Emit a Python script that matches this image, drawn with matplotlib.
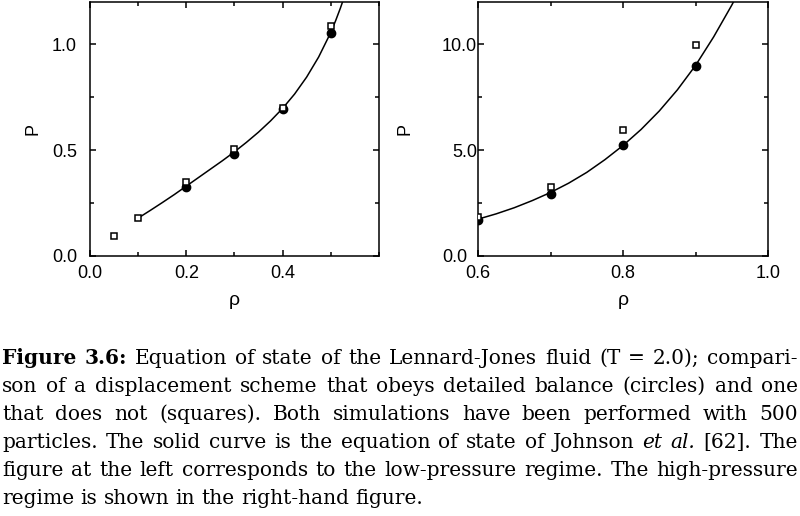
import matplotlib
matplotlib.use("Agg")
import matplotlib.pyplot as plt
from matplotlib.ticker import MultipleLocator
import matplotlib.transforms as mtransforms

# low-pressure regime (left panel)
rho_low_sq = [0.05, 0.1, 0.2, 0.3, 0.4, 0.5]
P_low_sq = [0.094, 0.18, 0.35, 0.505, 0.70, 1.085]
rho_low_circ = [0.2, 0.3, 0.4, 0.5]
P_low_circ = [0.327, 0.484, 0.693, 1.055]
rho_low_curve = [0.1, 0.125, 0.15, 0.175, 0.2, 0.225, 0.25, 0.275, 0.3, 0.325, 0.35,
                 0.375, 0.4, 0.425, 0.45, 0.475, 0.5, 0.51, 0.52, 0.53]
P_low_curve = [0.179, 0.215, 0.252, 0.29, 0.33, 0.37, 0.41, 0.45, 0.492, 0.537, 0.585,
               0.638, 0.697, 0.765, 0.845, 0.94, 1.055, 1.11, 1.17, 1.235]

# high-pressure regime (right panel)
rho_high = [0.6, 0.7, 0.8, 0.9]
P_high_sq = [1.83, 3.28, 5.97, 9.97]
P_high_circ = [1.70, 2.92, 5.23, 9.0]
rho_high_curve = [0.6, 0.625, 0.65, 0.675, 0.7, 0.725, 0.75, 0.775, 0.8, 0.825, 0.85,
                  0.875, 0.9, 0.925, 0.95, 0.96]
P_high_curve = [1.74, 1.99, 2.28, 2.62, 3.0, 3.44, 3.95, 4.55, 5.22, 5.98, 6.85,
                7.85, 9.0, 10.35, 11.85, 12.5]

# "**" before a word = bold, "*" = italic
caption_lines = [
    "**Figure **3.6: Equation of state of the Lennard-Jones fluid (T = 2.0); compari-",
    "son of a displacement scheme that obeys detailed balance (circles) and one",
    "that does not (squares). Both simulations have been performed with 500",
    "particles. The solid curve is the equation of state of Johnson *et *al. [62]. The",
    "figure at the left corresponds to the low-pressure regime. The high-pressure",
    "regime is shown in the right-hand figure.",
]

sans = "Liberation Sans"
serif = "DejaVu Serif"

fig = plt.figure(figsize=(8, 5.16), dpi=100, facecolor="white")
ax1 = fig.add_axes([0.1125, 0.5039, 0.361, 0.4922])
ax2 = fig.add_axes([0.5975, 0.5039, 0.3625, 0.4922])


def style_axes(ax, ypad):
    for s in ax.spines.values():
        s.set_linewidth(1.1)
    ax.tick_params(which="both", direction="in", top=True, right=True, width=1.1)
    ax.tick_params(which="major", length=4.3, labelsize=13)
    ax.tick_params(which="minor", length=2.9)
    ax.tick_params(axis="y", pad=ypad)
    ax.tick_params(axis="x", pad=6.5)
    for lab in ax.get_xticklabels() + ax.get_yticklabels():
        lab.set_family(sans)


ax1.plot(rho_low_curve, P_low_curve, color="black", lw=1.1, zorder=2)
ax1.plot(rho_low_circ, P_low_circ, "o", color="black", ms=6, zorder=3)
ax1.plot(rho_low_sq, P_low_sq, "s", mfc="white", mec="black", mew=1.1, ms=5, zorder=4)
ax1.set_xlim(0, 0.6)
ax1.set_ylim(0, 1.2)
ax1.xaxis.set_minor_locator(MultipleLocator(0.1))
ax1.yaxis.set_minor_locator(MultipleLocator(0.25))
ax1.set_xticks([0.0, 0.2, 0.4])
ax1.set_xticklabels(["0.0", "0.2", "0.4"])
ax1.set_yticks([0.0, 0.5, 1.0])
ax1.set_yticklabels(["0.0", "0.5", "1.0"])
style_axes(ax1, 9.4)

ax2.plot(rho_high_curve, P_high_curve, color="black", lw=1.1, zorder=2)
ax2.plot(rho_high, P_high_circ, "o", color="black", ms=6, zorder=3)
ax2.plot(rho_high, P_high_sq, "s", mfc="white", mec="black", mew=1.1, ms=5, zorder=4)
ax2.set_xlim(0.6, 1.0)
ax2.set_ylim(0, 12)
ax2.set_xticks([0.6, 0.8, 1.0])
ax2.set_xticklabels(["0.6", "0.8", "1.0"])
ax2.xaxis.set_minor_locator(MultipleLocator(0.1))
ax2.set_yticks([0.0, 5.0, 10.0])
ax2.set_yticklabels(["0.0", "5.0", "10.0"])
ax2.yaxis.set_minor_locator(MultipleLocator(2.5))
style_axes(ax2, 0.7)
lab0 = ax2.get_yticklabels()[0]
lab0.set_transform(lab0.get_transform() + mtransforms.ScaledTranslation(-10 / 100, 0, fig.dpi_scale_trans))

for ax, lx in [(ax1, -0.197), (ax2, -0.252)]:
    ax.set_xlabel("ρ", family=sans, fontsize=14)
    ax.set_ylabel("P", family=sans, fontsize=13)
    ax.xaxis.set_label_coords(0.5, -0.142)
    ax.yaxis.set_label_coords(lx, 0.5)
    ax.yaxis.label.set_va("center")

# justified caption
W, H = 800, 516
left_px, right_px = 2, 798
renderer = fig.canvas.get_renderer()


def width_of(t):
    return t.get_window_extent(renderer).width


def split_words(line):
    out = []
    for w in line.split(" "):
        weight, style = "normal", "normal"
        if w.startswith("**"):
            weight = "bold"
        elif w.startswith("*"):
            style = "italic"
        out.append((w.lstrip("*"), weight, style))
    return out


def make_line(line, fs):
    texts = []
    for w, weight, style in split_words(line):
        texts.append(fig.text(0, 0, w, fontsize=fs, family=serif, weight=weight,
                              style=style, va="baseline", ha="left"))
    return texts


def space_width(fs):
    a = fig.text(0, 0, "a", fontsize=fs, family=serif)
    b = fig.text(0, 0, "a a", fontsize=fs, family=serif)
    sp = width_of(b) - 2 * width_of(a)
    a.remove()
    b.remove()
    return sp


# largest size that lets every justified line keep a reasonable word gap
fs = 14.5
while True:
    sp = space_width(fs)
    ok = True
    for line in caption_lines[:-1]:
        texts = make_line(line, fs)
        total = sum(width_of(t) for t in texts)
        for t in texts:
            t.remove()
        if (right_px - left_px - total) / (len(texts) - 1) < 0.75 * sp:
            ok = False
            break
    if ok:
        break
    fs -= 0.2

sp = space_width(fs)
for i, line in enumerate(caption_lines):
    texts = make_line(line, fs)
    widths = [width_of(t) for t in texts]
    if i < len(caption_lines) - 1:
        gap = (right_px - left_px - sum(widths)) / (len(texts) - 1)
    else:
        gap = sp
    x = left_px
    base = 364 + 27.9 * i
    for t, wd in zip(texts, widths):
        t.set_position((x / W, 1 - base / H))
        x += wd + gap

fig.savefig("out.png", dpi=100, facecolor="white")
